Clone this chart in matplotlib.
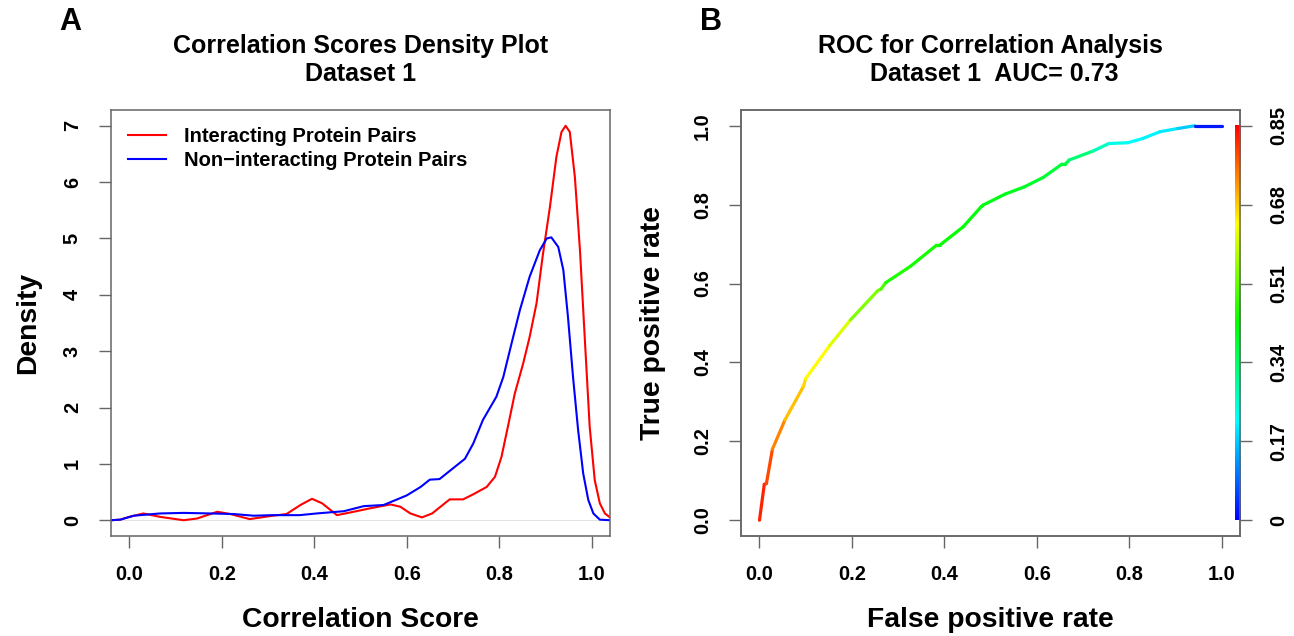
import numpy as np
import matplotlib
matplotlib.use("Agg")
import matplotlib.pyplot as plt
from matplotlib.collections import LineCollection
from matplotlib.colors import hsv_to_rgb

# density curves
inter_x = [-0.04, -0.02, 0.0, 0.03, 0.066, 0.117, 0.146, 0.19, 0.218, 0.26, 0.31, 0.34,
           0.37, 0.395, 0.417, 0.449, 0.485, 0.52, 0.565, 0.586, 0.608, 0.633, 0.655,
           0.693, 0.722, 0.744, 0.773, 0.791, 0.805, 0.819, 0.834, 0.852, 0.866, 0.881,
           0.895, 0.91, 0.924, 0.935, 0.944, 0.953, 0.964, 0.975, 0.986, 0.996, 1.007,
           1.018, 1.029, 1.04]
inter_y = [0.0, 0.01, 0.06, 0.12, 0.06, 0.0, 0.03, 0.15, 0.11, 0.02, 0.08, 0.11,
           0.27, 0.38, 0.30, 0.09, 0.15, 0.21, 0.28, 0.24, 0.12, 0.05, 0.12,
           0.37, 0.37, 0.46, 0.59, 0.77, 1.12, 1.66, 2.25, 2.78, 3.25, 3.85,
           4.73, 5.56, 6.45, 6.89, 7.0, 6.89, 6.09, 4.79, 3.14, 1.66, 0.71,
           0.30, 0.12, 0.05]
non_x = [-0.04, -0.02, 0.009, 0.066, 0.117, 0.175, 0.225, 0.269, 0.31, 0.368, 0.405,
         0.464, 0.507, 0.55, 0.6, 0.63, 0.65, 0.671, 0.7, 0.726, 0.744, 0.765, 0.794,
         0.809, 0.827, 0.845, 0.866, 0.888, 0.903, 0.913, 0.928, 0.939, 0.949, 0.96,
         0.971, 0.982, 0.993, 1.004, 1.018, 1.04]
non_y = [0.0, 0.01, 0.08, 0.12, 0.13, 0.12, 0.11, 0.08, 0.09, 0.09, 0.12,
         0.16, 0.25, 0.27, 0.44, 0.59, 0.72, 0.73, 0.92, 1.09, 1.36, 1.78, 2.19,
         2.54, 3.14, 3.73, 4.32, 4.79, 5.0, 5.02, 4.85, 4.44, 3.61, 2.54,
         1.6, 0.83, 0.36, 0.12, 0.01, 0.0]

# ROC curve (panel B) with the cutoff at each point
fpr = [0, 0.0104, 0.015, 0.028, 0.055, 0.095, 0.1, 0.152, 0.197, 0.256, 0.263, 0.273,
       0.327, 0.383, 0.39, 0.441, 0.48, 0.484, 0.532, 0.573, 0.614, 0.655, 0.662, 0.67,
       0.722, 0.756, 0.797, 0.83, 0.867, 0.905, 0.942, 1.0]
tpr = [0, 0.091, 0.093, 0.18, 0.254, 0.339, 0.359, 0.443, 0.508, 0.582, 0.586, 0.602,
       0.644, 0.697, 0.697, 0.744, 0.795, 0.799, 0.827, 0.845, 0.869, 0.903, 0.903, 0.913,
       0.936, 0.955, 0.957, 0.968, 0.985, 0.993, 1.0, 1.0]
cutoff = [0.85, 0.82, 0.81, 0.79, 0.74, 0.69, 0.67, 0.64, 0.61, 0.53, 0.52, 0.49,
          0.45, 0.44, 0.44, 0.43, 0.42, 0.42, 0.41, 0.40, 0.39, 0.38, 0.38, 0.37,
          0.33, 0.27, 0.23, 0.215, 0.205, 0.195, 0.17, 0.02]
cut_max = 0.85
cut_labels = ["0", "0.17", "0.34", "0.51", "0.68", "0.85"]
tick_vals = [0.0, 0.2, 0.4, 0.6, 0.8, 1.0]

plt.rcParams.update({
    "font.family": ["Liberation Sans", "DejaVu Sans"],
    "font.weight": "bold",
    "axes.labelweight": "bold",
    "axes.edgecolor": "#666666",
    "axes.linewidth": 1.1,
    "xtick.color": "#666666",
    "ytick.color": "#666666",
    "xtick.labelcolor": "black",
    "ytick.labelcolor": "black",
})

TICK_FS = 14.4
LAB_FS = 20.3


def rainbow(vals):
    v = np.clip(np.asarray(vals, dtype=float), 0, 1)
    hsv = np.stack([(2 / 3) * (1 - v), np.ones_like(v), np.ones_like(v)], axis=-1)
    return hsv_to_rgb(hsv)


def style_axis(ax):
    ax.tick_params(length=8.5, width=1.0, pad=12.5, labelsize=TICK_FS)
    plt.setp(ax.get_yticklabels(), rotation=90, va="center")


fig = plt.figure(figsize=(12.94, 6.36), dpi=100)
ax1 = fig.add_axes([111 / 1294, 1 - 536 / 636, 499 / 1294, 426 / 636])
ax2 = fig.add_axes([741 / 1294, 1 - 536 / 636, 499 / 1294, 426 / 636])

# ---- panel A
ax1.axhline(0, color="#dddddd", lw=0.6, zorder=1)
ax1.plot(inter_x, inter_y, color="red", lw=1.5, label="Interacting Protein Pairs")
ax1.plot(non_x, non_y, color="blue", lw=1.5, label="Non\u2212interacting Protein Pairs")
ax1.set_xlim(-0.04, 1.04)
ax1.set_ylim(-0.28, 7.28)
ax1.set_xticks(tick_vals)
ax1.set_xticklabels([f"{t:.1f}" for t in tick_vals])
ax1.set_yticks(range(8))
style_axis(ax1)
ax1.legend(loc="upper left", bbox_to_anchor=(0.034, 0.961), frameon=False,
           fontsize=14.5, handlelength=1.9, handletextpad=0.9, borderpad=0,
           borderaxespad=0, labelspacing=0.25)
ax1.set_xlabel("Correlation Score", fontsize=LAB_FS)
ax1.set_ylabel("Density", fontsize=LAB_FS)
ax1.xaxis.set_label_coords(0.5, (536 - 620) / 426)
ax1.yaxis.set_label_coords((28 - 111) / 499, 0.5)
ax1.xaxis.label.set_va("center")
ax1.yaxis.label.set_va("center")

# ---- panel B
pts = np.column_stack([fpr, tpr])
segs = np.stack([pts[:-1], pts[1:]], axis=1)
seg_cols = rainbow(np.array(cutoff[1:]) / cut_max)
lc = LineCollection(segs, colors=seg_cols, linewidths=2.3, capstyle="round", zorder=3)
ax2.add_collection(lc)

grad = np.linspace(0, 1, 256)[:, None]
ax2.imshow(rainbow(grad), extent=[1.029, 1.04, 0, 1], origin="lower",
           aspect="auto", zorder=4)
ax2.set_xlim(-0.04, 1.04)
ax2.set_ylim(-0.04, 1.04)
ax2.set_xticks(tick_vals)
ax2.set_xticklabels([f"{t:.1f}" for t in tick_vals])
ax2.set_yticks(tick_vals)
ax2.set_yticklabels([f"{t:.1f}" for t in tick_vals])
style_axis(ax2)
ax2.set_xlabel("False positive rate", fontsize=LAB_FS)
ax2.set_ylabel("True positive rate", fontsize=LAB_FS)
ax2.xaxis.set_label_coords(0.5, (536 - 620) / 426)
ax2.yaxis.set_label_coords((653 - 741) / 499, 0.5)
ax2.xaxis.label.set_va("center")
ax2.yaxis.label.set_va("center")

ax3 = ax2.twinx()
ax3.set_ylim(ax2.get_ylim())
ax3.set_yticks(tick_vals)
ax3.set_yticklabels(cut_labels)
ax3.tick_params(length=8.5, width=1.0, pad=12.5, labelsize=TICK_FS)
plt.setp(ax3.get_yticklabels(), rotation=90, va="center")

# ---- titles and panel letters
fig.text(361 / 1294, 1 - 60 / 636, "Correlation Scores Density Plot\nDataset 1",
         ha="center", va="center", fontsize=18, linespacing=1.18)
fig.text(990.5 / 1294, 1 - 60 / 636, "ROC for Correlation Analysis\n Dataset 1  AUC= 0.73",
         ha="center", va="center", fontsize=18, linespacing=1.18)
fig.text(70 / 1294, 1 - 22 / 636, "A", ha="center", va="center", fontsize=22)
fig.text(711 / 1294, 1 - 22 / 636, "B", ha="center", va="center", fontsize=22)

fig.savefig("out.png", dpi=100)
